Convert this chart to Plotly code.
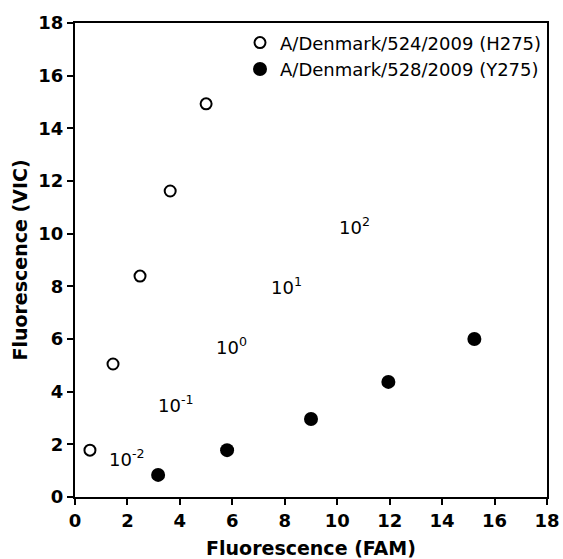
import plotly.graph_objects as go

# H275 (open circles)
h275_x = [0.57, 1.45, 2.48, 3.63, 5.0]
h275_y = [1.78, 5.05, 8.39, 11.62, 14.93]
# Y275 (filled circles)
y275_x = [3.17, 5.8, 9.0, 11.95, 15.23]
y275_y = [0.84, 1.78, 2.96, 4.37, 6.0]

label_texts = ["10<sup>-2</sup>", "10<sup>-1</sup>", "10<sup>0</sup>", "10<sup>1</sup>", "10<sup>2</sup>"]
label_x = [1.95, 3.85, 5.95, 8.05, 10.65]
label_y = [1.5, 3.55, 5.75, 8.0, 10.3]

tick_vals = [0, 2, 4, 6, 8, 10, 12, 14, 16, 18]

FONT = "DejaVu Sans, sans-serif"

fig = go.Figure()
fig.add_trace(go.Scatter(
    x=h275_x, y=h275_y, mode="markers", name="A/Denmark/524/2009 (H275)",
    marker=dict(symbol="circle-open", size=11, color="black", line=dict(width=2, color="black")),
))
fig.add_trace(go.Scatter(
    x=y275_x, y=y275_y, mode="markers", name="A/Denmark/528/2009 (Y275)",
    marker=dict(symbol="circle", size=14, color="black"),
))

for t, x, y in zip(label_texts, label_x, label_y):
    fig.add_annotation(x=x, y=y, text=t, showarrow=False,
                       font=dict(family=FONT, size=18, color="black"))

axis_common = dict(
    range=[0, 18], tickvals=tick_vals, ticks="outside", ticklen=6, tickwidth=2,
    tickcolor="black", showline=True, linecolor="black", linewidth=2, mirror=True,
    showgrid=False, zeroline=False, automargin=False,
    tickfont=dict(family=FONT, size=18, color="black", weight="bold"),
)

fig.update_xaxes(**axis_common,
                 title=dict(text="Fluorescence (FAM)", standoff=12,
                            font=dict(family=FONT, size=19, color="black", weight="bold")))
fig.update_yaxes(**axis_common,
                 title=dict(text="Fluorescence (VIC)", standoff=6,
                            font=dict(family=FONT, size=19, color="black", weight="bold")))

fig.update_layout(
    template="none",
    width=563, height=559,
    margin=dict(l=75, r=16, t=23, b=62),
    plot_bgcolor="white", paper_bgcolor="white",
    showlegend=True,
    legend=dict(x=1, y=0.997, xanchor="right", yanchor="top", bgcolor="rgba(0,0,0,0)",
                font=dict(family=FONT, size=18, color="black"),
                itemwidth=30, tracegroupgap=0),
)

fig.write_html(
    "out.html",
    config={"displayModeBar": False},
    post_script="document.body.style.margin='0';document.body.style.overflow='hidden';",
)
